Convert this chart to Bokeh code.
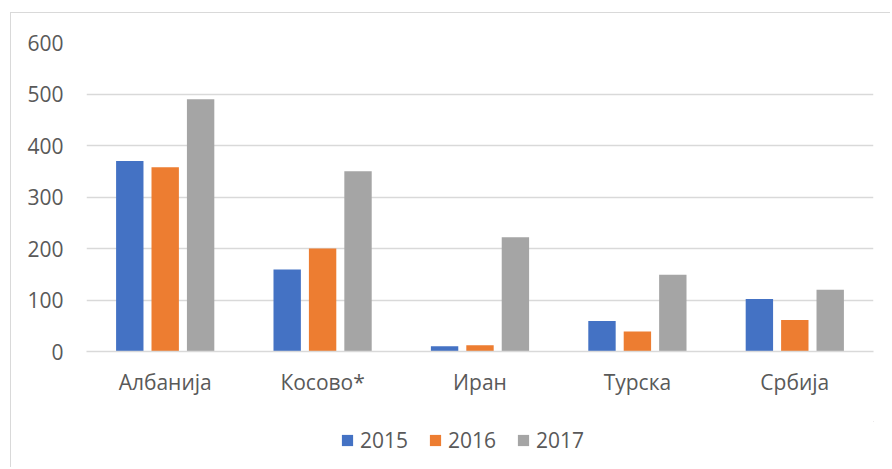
from bokeh.plotting import figure
from bokeh.layouts import column
from bokeh.models import ColumnDataSource, Legend, LegendItem, FactorRange, Range1d
from bokeh.transform import dodge
from bokeh.embed import file_html
from bokeh.resources import INLINE

countries = ["Албанија", "Косово*", "Иран", "Турска", "Србија"]
years = ["2015", "2016", "2017"]
v2015 = [370, 159, 10, 59, 102]
v2016 = [358, 200, 12, 39, 61]
v2017 = [490, 350, 222, 149, 120]
colors = ["#4472C4", "#ED7D31", "#A5A5A5"]
yticks = [0, 100, 200, 300, 400, 500, 600]

FONT = "Open Sans"
TXT = "#595959"
GRID = "#d9d9d9"
FS = "21px"

src = ColumnDataSource(dict(country=countries, y2015=v2015, y2016=v2016, y2017=v2017))

W, H1, H2 = 879, 408, 46
p = figure(width=W, height=H1, x_range=FactorRange(*countries), y_range=Range1d(0, 600),
           output_backend="svg", toolbar_location=None,
           min_border_left=75, min_border_right=17, min_border_top=29, min_border_bottom=70)
p.outline_line_color = None

cols = ["y2015", "y2016", "y2017"]
for col, off, c in zip(cols, [-0.225, 0.0, 0.225], colors):
    p.vbar(x=dodge("country", off, range=p.x_range), top=col, width=0.174,
           source=src, fill_color=c, line_color=None)

p.yaxis.ticker = yticks
p.yaxis.axis_line_color = None
p.yaxis.major_tick_line_color = None
p.yaxis.minor_tick_line_color = None
p.yaxis.major_tick_out = 0
p.yaxis.major_label_standoff = 23
p.yaxis.major_label_text_font = FONT
p.yaxis.major_label_text_font_size = FS
p.yaxis.major_label_text_color = TXT

p.xaxis.axis_line_color = GRID
p.xaxis.axis_line_width = 1.5
p.xaxis.major_tick_line_color = None
p.xaxis.minor_tick_line_color = None
p.xaxis.major_tick_out = 0
p.xaxis.major_label_standoff = 16
p.xaxis.major_label_text_font = FONT
p.xaxis.major_label_text_font_size = FS
p.xaxis.major_label_text_color = TXT

p.xgrid.grid_line_color = None
p.ygrid.grid_line_color = GRID
p.ygrid.grid_line_width = 1.5

# legend strip below the chart (its dummy bars lie outside the visible range)
p2 = figure(width=W, height=H2, x_range=Range1d(0, 1), y_range=Range1d(0, 1),
            x_axis_type=None, y_axis_type=None, output_backend="svg", toolbar_location=None,
            min_border_left=75, min_border_right=17, min_border_top=0, min_border_bottom=0)
p2.outline_line_color = None
p2.grid.visible = False
lr = []
for c in colors:
    lr.append(p2.vbar(x=[5], top=[6], bottom=[5], width=0.1, fill_color=c, line_color=None))

legend = Legend(items=[LegendItem(label=y, renderers=[r]) for y, r in zip(years, lr)],
                orientation="horizontal", location=(254, 13),
                label_text_font=FONT, label_text_font_size=FS, label_text_color=TXT,
                glyph_width=14, glyph_height=14, label_height=28, label_standoff=6, spacing=20,
                border_line_color=None, background_fill_alpha=0, margin=0, padding=0)
p2.add_layout(legend, "center")

layout = column(p, p2, spacing=0)
layout.styles = {"margin-left": "10px", "margin-top": "12px",
                 "border-left": "1px solid #d9d9d9", "border-top": "1px solid #d9d9d9"}

open("out.html", "w").write(file_html(layout, INLINE))
